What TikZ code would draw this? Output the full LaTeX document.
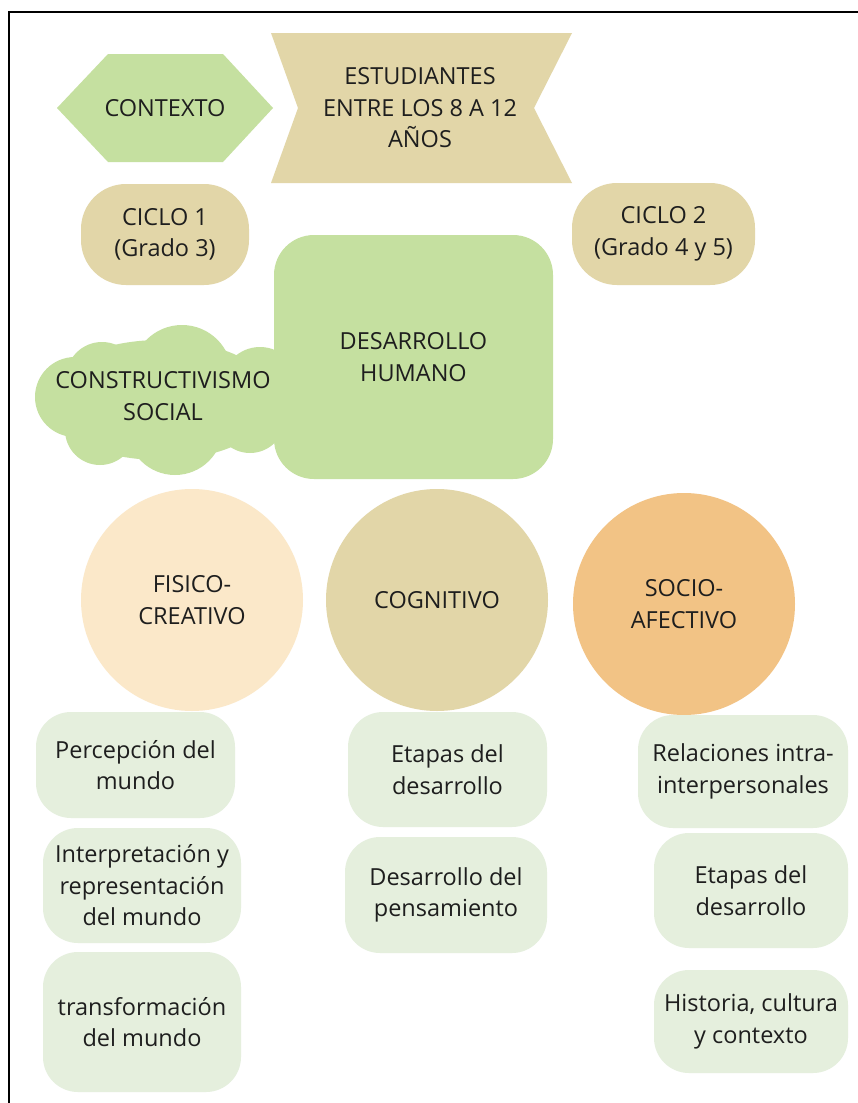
\documentclass[tikz,border=0pt]{standalone}
\usepackage{fontspec}
\setmainfont{Open Sans}
\definecolor{lgreen}{HTML}{C5E0A0}
\definecolor{tanc}{HTML}{E2D6A8}
\definecolor{peach}{HTML}{FBE8C9}
\definecolor{orangec}{HTML}{F2C385}
\definecolor{pale}{HTML}{E5EFDD}
\definecolor{ink}{HTML}{1E1E1E}
\begin{document}
\begin{tikzpicture}[x=1pt,y=-1pt,
  txt/.style={font=\fontsize{23.5pt}{31.5pt}\selectfont, text=ink, align=center, inner sep=0pt},
  rbox/.style={txt, fill=#1, rounded corners=35pt},
  cyc/.style={txt, fill=tanc, rounded corners=45pt},
  bub/.style={txt, circle, fill=#1, minimum size=222pt}
]
\useasboundingbox (0,0) rectangle (858,1103);
\fill[white] (0,0) rectangle (858,1103);
% frame
\draw[line width=2.5pt, line join=miter] (9,1110) -- (9,12) -- (870,12);

% hexagon CONTEXTO
\fill[lgreen] (57,108) -- (108,54) -- (223,54) -- (273,108) -- (223,162) -- (108,162) -- cycle;
\node[txt] (contexto) at (165,108) {CONTEXTO};

% bow-tie ESTUDIANTES
\fill[tanc] (271,33) -- (572,33) -- (534,108) -- (572,183) -- (271,183) -- (298,108) -- cycle;
\node[txt] (estud) at (420,108) {ESTUDIANTES\\ENTRE LOS 8 A 12\\AÑOS};

% ciclos
\node[cyc, minimum width=168pt, minimum height=101pt] (ciclo1) at (165,234.5) {CICLO 1\\(Grado 3)};
\node[cyc, minimum width=183pt, minimum height=102pt] (ciclo2) at (663.5,234) {CICLO 2\\(Grado 4 y 5)};

% cloud
\fill[lgreen] (102,378) circle (36pt) (182,375) circle (50pt) (260,385) circle (38pt)
  (75,397) circle (40pt) (100,430) circle (35pt) (175,427) circle (48pt) (250,418) circle (35pt)
  (80,370) rectangle (270,430);
\fill[lgreen] (160,400) ellipse [x radius=115pt, y radius=60pt];

% desarrollo humano
\node[txt, fill=lgreen, rounded corners=40pt, minimum width=279pt, minimum height=244pt] (desarrollo) at (413.5,357) {DESARROLLO\\HUMANO};
\node[txt] (construct) at (163,396) {CONSTRUCTIVISMO\\SOCIAL};

% circles
\node[bub=peach] (fisico) at (192,600) {FISICO-\\CREATIVO};
\node[bub=tanc] (cognitivo) at (437,600) {COGNITIVO};
\node[bub=orangec] (socio) at (684,604) {SOCIO-\\AFECTIVO};

% bottom boxes
\node[rbox=pale, minimum width=199pt, minimum height=106pt] (perc) at (135.5,765) {Percepción del\\mundo};
\node[rbox=pale, minimum width=198pt, minimum height=115pt] (interp) at (142,885.5) {Interpretación y\\representación\\del mundo};
\node[rbox=pale, minimum width=198pt, minimum height=140pt] (transf) at (142,1022) {transformación\\del mundo};

\node[rbox=pale, minimum width=199pt, minimum height=115pt] (etapas1) at (447.5,769.5) {Etapas del\\desarrollo};
\node[rbox=pale, minimum width=202pt, minimum height=116pt] (pensam) at (446,895) {Desarrollo del\\pensamiento};

\node[rbox=pale, minimum width=210pt, minimum height=113pt] (relac) at (743,771.5) {Relaciones intra-\\interpersonales};
\node[rbox=pale, minimum width=194pt, minimum height=115pt] (etapas2) at (751,890.5) {Etapas del\\desarrollo};
\node[rbox=pale, minimum width=194pt, minimum height=103pt] (hist) at (751,1021.5) {Historia, cultura\\y contexto};
\end{tikzpicture}
\end{document}
